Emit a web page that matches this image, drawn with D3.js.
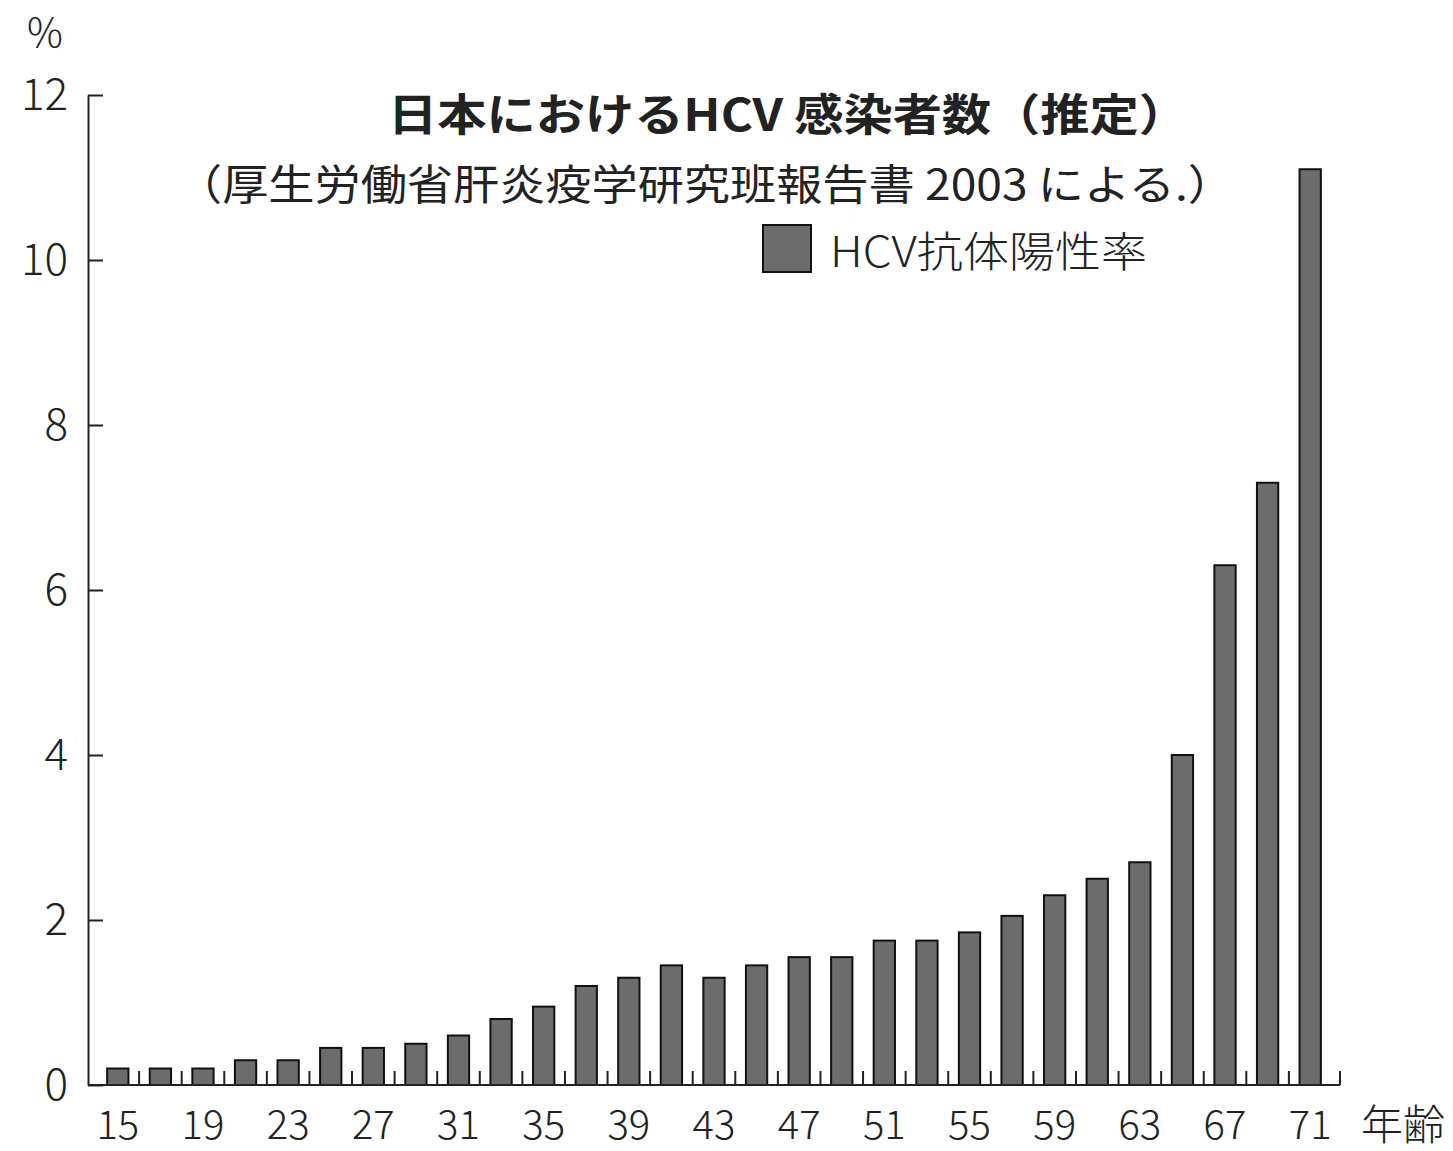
<!DOCTYPE html>
<html>
<head>
<meta charset="utf-8">
<script src="https://cdn.jsdelivr.net/npm/d3@7"></script>
<style>
  html, body { margin: 0; padding: 0; background: #fff; }
  text { font-family: "Noto Sans CJK JP", "Noto Sans", sans-serif; fill: #222; }
</style>
</head>
<body>
<div id="chart"></div>
<script>
// 年齢 (15〜71, 2歳刻み)
var ages = [15, 17, 19, 21, 23, 25, 27, 29, 31, 33, 35, 37, 39, 41, 43,
            45, 47, 49, 51, 53, 55, 57, 59, 61, 63, 65, 67, 69, 71];
// HCV抗体陽性率 (%)
var rates = [0.2, 0.2, 0.2, 0.3, 0.3, 0.45, 0.45, 0.5, 0.6, 0.8, 0.95, 1.2, 1.3, 1.45, 1.3,
             1.45, 1.55, 1.55, 1.75, 1.75, 1.85, 2.05, 2.3, 2.5, 2.7, 4.0, 6.3, 7.3, 11.1];
var yTicks = [0, 2, 4, 6, 8, 10, 12];
var xLabels = [15, 19, 23, 27, 31, 35, 39, 43, 47, 51, 55, 59, 63, 67, 71];

var title = "日本におけるHCV 感染者数（推定）";
var subtitle = "（厚生労働省肝炎疫学研究班報告書 2003 による.）";
var legendLabel = "HCV抗体陽性率";
var yUnit = "%";
var xUnit = "年齢";

function drawChart(containerId) {
    var WIDTH = 1453, HEIGHT = 1151;
    var left = 88, right = 1340, top = 95, bottom = 1085;
    var barFill = "#6c6c6c";

    var svg = d3.select(containerId).append("svg")
        .attr("width", WIDTH)
        .attr("height", HEIGHT);

    svg.append("rect").attr("width", WIDTH).attr("height", HEIGHT).attr("fill", "#fff");

    var data = ages.map(function (a, i) { return { age: a, rate: rates[i] }; });

    var x = d3.scaleBand()
        .domain(ages)
        .range([left, right])
        .paddingInner(0.5)
        .paddingOuter(0.45);

    var y = d3.scaleLinear()
        .domain([0, 12])
        .range([bottom, top]);

    // y軸 (目盛りは内向き)
    var yAxis = svg.append("g")
        .attr("transform", "translate(" + left + ",0)")
        .call(d3.axisLeft(y).tickValues(yTicks).tickSize(-15).tickPadding(20).tickSizeOuter(0));
    yAxis.select(".domain").attr("stroke", "#222").attr("stroke-width", 2);
    yAxis.selectAll(".tick line").attr("stroke", "#222").attr("stroke-width", 2);
    yAxis.selectAll(".tick text")
        .attr("font-size", 44)
        .attr("font-weight", 300)
        .attr("fill", "#222")
        .attr("font-family", "\"Noto Sans CJK JP\", sans-serif");

    // bars
    svg.append("g").attr("class", "bars")
        .selectAll("rect")
        .data(data)
        .enter().append("rect")
        .attr("x", function (d) { return x(d.age); })
        .attr("y", function (d) { return y(d.rate); })
        .attr("width", x.bandwidth())
        .attr("height", function (d) { return y(0) - y(d.rate); })
        .attr("fill", barFill)
        .attr("stroke", "#111")
        .attr("stroke-width", 2);

    // x軸
    var gap = (x.step() - x.bandwidth()) / 2;
    var xAxis = svg.append("g")
        .attr("transform", "translate(0," + bottom + ")")
        .call(d3.axisBottom(x).tickValues(xLabels).tickSize(0).tickPadding(26));
    xAxis.select(".domain").remove();
    xAxis.selectAll(".tick text")
        .attr("font-size", 40)
        .attr("font-weight", 300)
        .attr("fill", "#222")
        .attr("font-family", "\"Noto Sans CJK JP\", sans-serif");

    svg.append("line")
        .attr("x1", left).attr("x2", right)
        .attr("y1", y(0)).attr("y2", y(0))
        .attr("stroke", "#222").attr("stroke-width", 2);

    // 区切り目盛り (上向き)
    var bounds = ages.slice(1).map(function (a) { return x(a) - gap; });
    bounds.push(right);
    svg.append("g").selectAll("line")
        .data(bounds)
        .enter().append("line")
        .attr("x1", function (d) { return d; })
        .attr("x2", function (d) { return d; })
        .attr("y1", y(0))
        .attr("y2", y(0) - 14)
        .attr("stroke", "#222")
        .attr("stroke-width", 2);

    // 単位
    svg.append("text")
        .attr("x", 45).attr("y", 47)
        .attr("text-anchor", "middle")
        .attr("font-size", 40)
        .attr("font-weight", 300)
        .text(yUnit);

    svg.append("text")
        .attr("x", 1403).attr("y", 1140)
        .attr("text-anchor", "middle")
        .attr("font-size", 42)
        .attr("font-weight", 300)
        .text(xUnit);

    // タイトル
    svg.append("text")
        .attr("x", 388).attr("y", 131)
        .attr("font-size", 44)
        .attr("font-weight", 700)
        .attr("textLength", 800)
        .attr("lengthAdjust", "spacingAndGlyphs")
        .text(title);

    svg.append("text")
        .attr("x", 176).attr("y", 200)
        .attr("font-size", 42)
        .attr("font-weight", 400)
        .attr("textLength", 1058)
        .attr("lengthAdjust", "spacingAndGlyphs")
        .text(subtitle);

    // 凡例
    svg.append("rect")
        .attr("x", 763).attr("y", 225)
        .attr("width", 48).attr("height", 47)
        .attr("fill", barFill)
        .attr("stroke", "#111")
        .attr("stroke-width", 2);

    svg.append("text")
        .attr("x", 830).attr("y", 267)
        .attr("font-size", 42)
        .attr("font-weight", 300)
        .attr("textLength", 317)
        .attr("lengthAdjust", "spacingAndGlyphs")
        .text(legendLabel);
}

drawChart("#chart");
</script>
</body>
</html>
